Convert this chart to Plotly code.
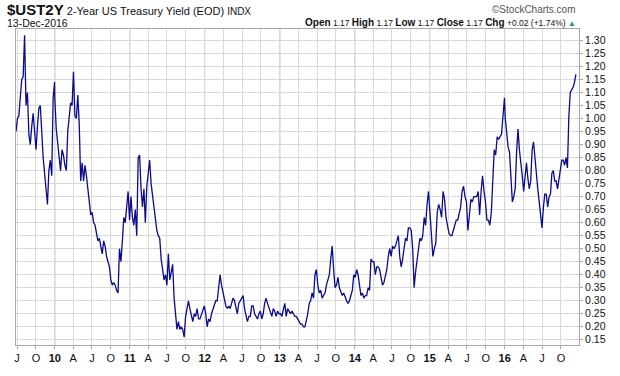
import pandas as pd
import plotly.graph_objects as go

# ---- data: weekly closes (2-Year US Treasury Yield, %) ----
y2009 = [0.95, 1.00, 1.01, 1.08, 1.15, 1.16, 1.32, 1.05, 1.10, 0.94, 0.90, 0.97, 1.02, 0.95,
         0.88, 0.97, 1.04, 1.05, 0.93, 0.85, 0.79, 0.74, 0.67, 0.80, 0.84, 0.78, 1.08, 1.14]
y2010 = [1.08, 0.96, 0.90, 0.86, 0.80, 0.88, 0.86, 0.82, 0.80, 0.95, 1.02, 1.06, 1.05, 1.18,
         1.01, 1.00, 1.09, 0.98, 0.76, 0.83, 0.76, 0.82, 0.78, 0.73, 0.70, 0.63, 0.64, 0.60,
         0.59, 0.56, 0.53, 0.54, 0.51, 0.48, 0.53, 0.51, 0.47, 0.45, 0.43, 0.38, 0.36, 0.37,
         0.36, 0.34, 0.33, 0.50, 0.45, 0.53, 0.62, 0.60, 0.65, 0.72, 0.61]
y2011 = [0.70, 0.62, 0.59, 0.65, 0.55, 0.85, 0.86, 0.73, 0.66, 0.73, 0.60, 0.74, 0.80, 0.84,
         0.75, 0.70, 0.65, 0.60, 0.57, 0.55, 0.54, 0.46, 0.41, 0.38, 0.40, 0.36, 0.48, 0.38,
         0.41, 0.44, 0.31, 0.26, 0.19, 0.22, 0.19, 0.20, 0.19, 0.16, 0.24, 0.27, 0.30, 0.27,
         0.24, 0.22, 0.25, 0.24, 0.27, 0.23, 0.23, 0.25, 0.27, 0.28]
y2012 = [0.25, 0.20, 0.23, 0.22, 0.25, 0.27, 0.28, 0.30, 0.30, 0.35, 0.40, 0.36, 0.33, 0.30,
         0.28, 0.27, 0.28, 0.27, 0.29, 0.31, 0.30, 0.27, 0.25, 0.29, 0.30, 0.31,
         0.32, 0.27, 0.24, 0.22, 0.24, 0.24, 0.28, 0.28, 0.25, 0.24, 0.23, 0.25, 0.26, 0.23,
         0.25, 0.29, 0.31, 0.29, 0.27, 0.25, 0.24, 0.27, 0.26, 0.24, 0.26, 0.25]
y2013 = [0.25, 0.24, 0.27, 0.29, 0.24, 0.27, 0.26, 0.25, 0.26, 0.25, 0.24, 0.24, 0.23, 0.22,
         0.21, 0.21, 0.20, 0.20, 0.22, 0.25, 0.29, 0.30, 0.33, 0.31, 0.40, 0.42, 0.36, 0.33,
         0.34, 0.31, 0.32, 0.33, 0.36, 0.38, 0.40, 0.46, 0.51, 0.42, 0.35, 0.36, 0.39, 0.35,
         0.33, 0.32, 0.33, 0.31, 0.30, 0.29, 0.30, 0.32, 0.34, 0.40]
y2014 = [0.39, 0.42, 0.40, 0.36, 0.32, 0.33, 0.31, 0.32, 0.32, 0.35, 0.34, 0.46, 0.45, 0.45,
         0.40, 0.43, 0.43, 0.42, 0.39, 0.36, 0.37, 0.40, 0.42, 0.47, 0.50, 0.47, 0.51, 0.50,
         0.51, 0.53, 0.55, 0.47, 0.43, 0.46, 0.51, 0.54, 0.53, 0.58, 0.58, 0.57, 0.50, 0.35,
         0.41, 0.46, 0.51, 0.54, 0.53, 0.55, 0.62, 0.59, 0.67, 0.72]
y2015 = [0.64, 0.56, 0.47, 0.50, 0.52, 0.64, 0.67, 0.65, 0.62, 0.72, 0.69, 0.62, 0.58, 0.56,
         0.55, 0.55, 0.57, 0.59, 0.61, 0.61, 0.63, 0.66, 0.72, 0.74, 0.70, 0.68,
         0.57, 0.64, 0.69, 0.68, 0.70, 0.70, 0.70, 0.72, 0.63, 0.72, 0.78, 0.72, 0.68, 0.61,
         0.61, 0.59, 0.64, 0.76, 0.88, 0.86, 0.93, 0.92, 0.93, 0.94, 1.01, 1.08]
y2016 = [1.00, 0.93, 0.89, 0.87, 0.76, 0.68, 0.70, 0.73, 0.87, 0.96, 0.88, 0.84, 0.78, 0.72,
         0.77, 0.83, 0.77, 0.73, 0.76, 0.88, 0.91, 0.86, 0.79, 0.73, 0.67, 0.61, 0.58, 0.66,
         0.71, 0.71, 0.66, 0.70, 0.71, 0.79, 0.80, 0.76, 0.76, 0.73, 0.77, 0.80, 0.84, 0.84,
         0.82, 0.85, 0.81, 1.01, 1.10, 1.11, 1.12, 1.14, 1.17]

segment_spans = [("2009-06-26", "2009-12-31", y2009), ("2010-01-01", "2010-12-31", y2010),
                 ("2011-01-07", "2011-12-30", y2011), ("2012-01-06", "2012-12-28", y2012),
                 ("2013-01-04", "2013-12-27", y2013), ("2014-01-03", "2014-12-26", y2014),
                 ("2015-01-02", "2015-12-31", y2015), ("2016-01-04", "2016-12-13", y2016)]

x_tick_dates = ["2009-07-01", "2009-10-01", "2010-01-01", "2010-04-01", "2010-07-01", "2010-10-01",
                "2011-01-01", "2011-04-01", "2011-07-01", "2011-10-01", "2012-01-01", "2012-04-01",
                "2012-07-01", "2012-10-01", "2013-01-01", "2013-04-01", "2013-07-01", "2013-10-01",
                "2014-01-01", "2014-04-01", "2014-07-01", "2014-10-01", "2015-01-01", "2015-04-01",
                "2015-07-01", "2015-10-01", "2016-01-01", "2016-04-01", "2016-07-01", "2016-10-01"]
x_tick_labels = ["J", "O", "<b>10</b>", "A", "J", "O", "<b>11</b>", "A", "J", "O", "<b>12</b>", "A",
                 "J", "O", "<b>13</b>", "A", "J", "O", "<b>14</b>", "A", "J", "O", "<b>15</b>", "A",
                 "J", "O", "<b>16</b>", "A", "J", "O"]
year_lines = ["2010-01-01", "2011-01-01", "2012-01-01", "2013-01-01",
              "2014-01-01", "2015-01-01", "2016-01-01"]
y_tick_vals = [0.15, 0.20, 0.25, 0.30, 0.35, 0.40, 0.45, 0.50, 0.55, 0.60, 0.65, 0.70,
               0.75, 0.80, 0.85, 0.90, 0.95, 1.00, 1.05, 1.10, 1.15, 1.20, 1.25, 1.30]

symbol = "$UST2Y"
name = "2-Year US Treasury Yield (EOD)"
exchange = "INDX"
as_of = "13-Dec-2016"
open_v, high_v, low_v, close_v, chg_v, chg_pct = "1.17", "1.17", "1.17", "1.17", "+0.02", "+1.74%"

# ---- build series ----
dates, vals = [], []
for start, end, v in segment_spans:
    dates += list(pd.date_range(start, end, periods=len(v)))
    vals += v

FONT = "Liberation Sans, Arial, sans-serif"
W, H = 620, 376
L, R, T, B = 16, 41, 29, 16
PW, PH = W - L - R, H - T - B

def px(xp):
    return (xp - L) / PW

def py(yp):
    return (H - B - yp) / PH

fig = go.Figure()
fig.add_trace(go.Scatter(x=dates, y=vals, mode="lines",
                         line=dict(color="#0b0b8c", width=1.3), hoverinfo="skip"))

shapes = [dict(type="line", xref="x", yref="paper", x0=d, x1=d, y0=0, y1=1,
               line=dict(color="#b4b4b4", width=1), layer="between") for d in year_lines]

def lab(t):
    return f'<span style="font-size:10px"><b>{t}</b></span>'

annotations = [
    dict(text=f'<span style="font-size:15px"><b>{symbol}</b></span> {name} '
              f'<span style="font-size:10px">{exchange}</span>',
         x=px(5), y=py(9), xref="paper", yref="paper", xanchor="left", yanchor="middle",
         showarrow=False, font=dict(family=FONT, size=11, color="#111")),
    dict(text=as_of, x=px(5), y=py(22.5), xref="paper", yref="paper", xanchor="left",
         yanchor="middle", showarrow=False, font=dict(family=FONT, size=10.5, color="#111")),
    dict(text="©StockCharts.com", x=px(578), y=py(9), xref="paper", yref="paper",
         xanchor="right", yanchor="middle", showarrow=False,
         font=dict(family=FONT, size=10, color="#555")),
    dict(text=(f'{lab("Open")} {open_v} {lab("High")} {high_v} {lab("Low")} {low_v} '
               f'{lab("Close")} {close_v} {lab("Chg")} {chg_v} ({chg_pct}) '
               f'<span style="color:#2e9e3a;font-size:8px">▲</span>'),
         x=px(578), y=py(22.5), xref="paper", yref="paper", xanchor="right", yanchor="middle",
         showarrow=False, font=dict(family=FONT, size=8.5, color="#111")),
]

fig.update_layout(
    width=W, height=H, margin=dict(l=L, r=R, t=T, b=B, pad=0),
    paper_bgcolor="white", plot_bgcolor="white", showlegend=False,
    font=dict(family=FONT, size=11, color="#111"),
    shapes=shapes, annotations=annotations,
    xaxis=dict(range=["2009-06-26", "2016-12-28"], tickmode="array",
               tickvals=x_tick_dates, ticktext=x_tick_labels, tickangle=0,
               showgrid=True, gridcolor="#d9d9d9", gridwidth=1,
               showline=True, mirror=True, linecolor="#a9a9a9", linewidth=1,
               ticks="outside", ticklen=3, tickcolor="#a9a9a9",
               tickfont=dict(family=FONT, size=11, color="#111"), zeroline=False),
    yaxis=dict(side="right", range=[0.130, 1.344], tickmode="array",
               tickvals=y_tick_vals, ticktext=[f"{v:.2f}" for v in y_tick_vals],
               showgrid=True, gridcolor="#d9d9d9", gridwidth=1,
               showline=True, mirror=True, linecolor="#a9a9a9", linewidth=1,
               ticks="outside", ticklen=3, tickcolor="#a9a9a9",
               tickfont=dict(family=FONT, size=10.5, color="#111"), zeroline=False),
)

# remove the browser's default 8px page margin so the figure sits at the window origin
fig.write_html("out.html", config={"staticPlot": True, "displayModeBar": False},
               post_script="document.body.style.margin='0';document.body.style.overflow='hidden';")
